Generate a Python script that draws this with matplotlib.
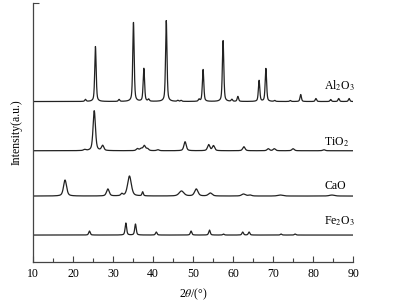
import numpy as np
import matplotlib
matplotlib.use("Agg")
import matplotlib.pyplot as plt

plt.rcParams['font.family'] = ['Liberation Serif', 'DejaVu Serif']
plt.rcParams['mathtext.fontset'] = 'stix'

# peak positions (2theta), heights (a.u.) and widths
al_pos = [23.1, 25.6, 31.5, 35.1, 37.7, 38.9, 43.3, 46.2, 47.0, 51.5, 52.5, 57.5, 59.7, 61.2, 66.5, 68.2, 70.4, 74.3, 76.9, 80.7, 84.4, 86.4, 89.0]
al_h = [2, 55, 2, 79, 33, 2, 81, 1, 1, 2, 32, 61, 2, 5, 21, 33, 1, 1, 7, 3, 2, 3, 3]
al_w = 0.42

ti_pos = [22.9, 25.3, 27.4, 36.1, 37.0, 37.8, 38.6, 41.2, 48.0, 53.9, 55.1, 62.7, 68.8, 70.3, 75.0, 82.7]
ti_h = [1, 40, 5, 2, 2, 5, 2, 1, 9, 6, 5, 4, 2, 2, 2, 1]
ti_w = 0.7

ca_pos = [18.0, 28.7, 32.2, 34.1, 37.4, 47.1, 50.8, 54.3, 62.6, 64.2, 71.8, 84.7]
ca_h = [16, 7, 2, 20, 4, 5, 7, 3, 2, 1, 1, 1]
ca_w = [0.9, 0.8, 0.6, 1.1, 0.4, 1.4, 1.0, 1.1, 1.1, 1.0, 1.5, 1.5]

fe_pos = [24.1, 33.2, 35.6, 40.8, 49.5, 54.1, 57.6, 62.4, 64.0, 72.0, 75.5]
fe_h = [4, 12, 11, 3, 4, 5, 1, 3, 3, 1, 1]
fe_w = 0.45

names = ["Al$_2$O$_3$", "TiO$_2$", "CaO", "Fe$_2$O$_3$"]
offsets = [160.5, 111.3, 66, 27]
label_y = [176, 120, 76, 41]

tt = np.linspace(10, 90, 4000)


def pattern(pos, h, w):
    w = np.broadcast_to(w, (len(pos),))
    y = np.zeros_like(tt)
    for p, a, g in zip(pos, h, w):
        x = (tt - p) / (g / 2)
        y += a * (0.5 / (1 + x ** 2) + 0.5 * np.exp(-np.log(2) * x ** 2))
    return y


sets = [(al_pos, al_h, al_w), (ti_pos, ti_h, ti_w), (ca_pos, ca_h, ca_w), (fe_pos, fe_h, fe_w)]

fig = plt.figure(figsize=(4.13, 3.04), dpi=100)
ax = fig.add_axes([0.080, 0.138, 0.775, 0.852])

for (pos, h, w), off, name, ly in zip(sets, offsets, names, label_y):
    ax.plot(tt, pattern(pos, h, w) + off, color='#222222', lw=0.9)
    ax.text(82.8, ly, name, fontsize=8.5, ha='left', va='center')

ax.set_xlim(10, 90)
ax.set_ylim(0, 259)
ax.spines['top'].set_visible(False)
ax.spines['right'].set_visible(False)
for s in ('left', 'bottom'):
    ax.spines[s].set_color('#444444')
    ax.spines[s].set_linewidth(0.9)
ax.set_xticks(range(10, 91, 10))
ax.set_xticks(range(15, 90, 10), minor=True)
ax.tick_params(axis='x', direction='in', length=4, width=0.8, labelsize=8.5, pad=4, color='#444444')
ax.tick_params(axis='x', which='minor', direction='in', length=3, width=0.8, color='#444444')
ax.set_yticks([259])
ax.set_yticklabels([])
ax.tick_params(axis='y', direction='in', length=4, width=0.8, color='#444444')

ax.set_xlabel(r"2$\theta$/(°)", fontsize=8.5, labelpad=5)
ax.set_ylabel("Intensity(a.u.)", fontsize=8.5, labelpad=4)

fig.savefig("out.png", dpi=100)
